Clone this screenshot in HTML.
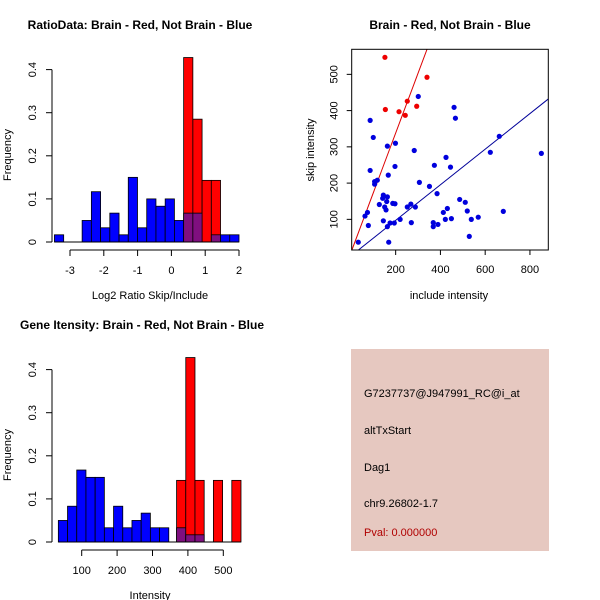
<!DOCTYPE html>
<html><head><meta charset="utf-8"><style>
html,body{margin:0;padding:0;background:#fff;}
svg{display:block;font-family:"Liberation Sans",Arial,sans-serif;}
</style></head><body>
<svg id="s" width="600" height="600" viewBox="0 0 600 600">
<rect width="600" height="600" fill="#fff"/>
<text x="140" y="29" font-size="12" font-weight="bold" text-anchor="middle">RatioData: Brain - Red, Not Brain - Blue</text>
<text x="450" y="29" font-size="12" font-weight="bold" text-anchor="middle">Brain - Red, Not Brain - Blue</text>
<text x="142" y="329" font-size="12" font-weight="bold" text-anchor="middle">Gene Itensity: Brain - Red, Not Brain - Blue</text>
<text x="150" y="299" font-size="11" text-anchor="middle">Log2 Ratio Skip/Include</text>
<text x="150" y="599" font-size="11" text-anchor="middle">Intensity</text>
<text transform="translate(11,155) rotate(-90)" font-size="11" text-anchor="middle">Frequency</text>
<text transform="translate(11,455) rotate(-90)" font-size="11" text-anchor="middle">Frequency</text>
<text x="449" y="299" font-size="11" text-anchor="middle">include intensity</text>
<text transform="translate(314,150) rotate(-90)" font-size="11" text-anchor="middle">skip intensity</text>
<g>
<rect x="351" y="349" width="198" height="202" fill="#e6c8c0"/>
<text x="364" y="397" font-size="11">G7237737@J947991_RC@i_at</text>
<text x="364" y="434" font-size="11">altTxStart</text>
<text x="364" y="471" font-size="11">Dag1</text>
<text x="364" y="507" font-size="11">chr9.26802-1.7</text>
<text x="364" y="536" font-size="11" fill="#b00000">Pval: 0.000000</text>
</g>
<g id="g1"></g><g id="g2"></g><g id="g3"></g>
</svg>
<script>
// Ratio histogram data
const ratioBinStart=-3.46, ratioBinWidth=0.273;
const ratioBlue=[0.0167,0,0,0.05,0.1167,0.033,0.067,0.0167,0.15,0.033,0.1,0.083,0.1,0.05,0.067,0.067,0,0.0167,0.0167,0.0167];
const ratioRed=[0,0,0,0,0,0,0,0,0,0,0,0,0,0,0.428,0.285,0.143,0.143,0,0];
const ratioXTicks=[-3,-2,-1,0,1,2];
const freqTicks=[0,0.1,0.2,0.3,0.4];
// Intensity histogram data
const intBlueStart=34, intBlueWidth=26;
const intBlue=[0.05,0.083,0.167,0.15,0.15,0.033,0.083,0.033,0.05,0.067,0.033,0.033];
const intRedStart=368, intRedWidth=26;
const intRed=[0.143,0.428,0.143,0,0.143,0,0.143];
const intBlueInRed=[0.033,0.0167,0.0167,0,0,0,0];
const intXTicks=[100,200,300,400,500];
// Scatter data
const redX=[152,340,252,294,215,154,243];
const redY=[547,492,426,412,397,403,387];
const blueX=[33,63,74,78,86,86,100,106,106,118,127,145,142,145,151,157,160,163,163,167,163,169,175,187,194,197,197,199,220,252,268,270,283,288,301,306,351,373,385,368,368,389,413,425,422,431,445,449,461,467,486,511,520,529,538,569,623,663,681,851];
const blueY=[37,109,119,83,373,235,326,204,197,208,141,167,158,96,134,126,149,162,302,222,80,37,90,144,90,143,246,310,100,134,142,91,290,134,439,202,191,249,171,91,80,86,119,271,100,130,244,102,409,379,155,147,123,53,100,106,285,329,122,282];
const redFit=[8,1.65];   // intercept, slope
const blueFit=[-1,0.491];
const scXTicks=[200,400,600,800];
const scYTicks=[100,200,300,400,500];

const NS="http://www.w3.org/2000/svg";
function mk(p,t,a){const e=document.createElementNS(NS,t);for(const k in a)e.setAttribute(k,a[k]);p.appendChild(e);return e;}
const BLUE="#0000ff",RED="#ff0000",PURP="#7f0f7f";

function axisY(g,y,x0,ticks,name){
  const l=mk(g,'line',{x1:x0,x2:x0,y1:y(ticks[0]),y2:y(ticks[ticks.length-1]),stroke:'#000'});
  
  
  ticks.forEach(t=>{
    const tk=mk(g,'line',{x1:x0-6,x2:x0,y1:y(t),y2:y(t),stroke:'#000'});
    
    
    const tx=mk(g,'text',{transform:`translate(${x0-16},${y(t)}) rotate(-90)`,'font-size':11,'text-anchor':'middle'});
    tx.textContent=String(t);
    
    
  });
}
function axisX(g,x,y0,ticks,name){
  const l=mk(g,'line',{x1:x(ticks[0]),x2:x(ticks[ticks.length-1]),y1:y0,y2:y0,stroke:'#000'});
  
  
  ticks.forEach(t=>{
    const tk=mk(g,'line',{x1:x(t),x2:x(t),y1:y0,y2:y0+6,stroke:'#000'});
    
    
    const tx=mk(g,'text',{x:x(t),y:y0+24,'font-size':11,'text-anchor':'middle'});
    tx.textContent=String(t);
    
    
  });
}
function bar(g,x0,x1,yb,yt,fill,name){
  const r=mk(g,'rect',{x:x0,y:yt,width:x1-x0,height:yb-yt,fill:fill,stroke:'#000','stroke-width':0.8});
  
  
}

// Panel 1
(function(){
  const g=document.getElementById('g1');
  const x=v=>70+(v+3)*33.8, y=v=>242-v*431;
  for(let i=0;i<ratioRed.length;i++){
    if(ratioRed[i]>0) bar(g,x(ratioBinStart+i*ratioBinWidth),x(ratioBinStart+(i+1)*ratioBinWidth),y(0),y(ratioRed[i]),RED,'ratio-red-bar');
  }
  for(let i=0;i<ratioBlue.length;i++){
    if(ratioBlue[i]>0) bar(g,x(ratioBinStart+i*ratioBinWidth),x(ratioBinStart+(i+1)*ratioBinWidth),y(0),y(ratioBlue[i]),ratioRed[i]>0?PURP:BLUE,'ratio-blue-bar');
  }
  const b=mk(g,'line',{x1:x(ratioBinStart),x2:x(ratioBinStart+ratioBlue.length*ratioBinWidth),y1:y(0),y2:y(0),stroke:'#000'});
  
  
  axisY(g,y,52,freqTicks,'ratio-y-axis');
  axisX(g,x,250,ratioXTicks,'ratio-x-axis');
})();

// Panel 3
(function(){
  const g=document.getElementById('g3');
  const x=v=>46.3+v*0.354, y=v=>542-v*431;
  for(let i=0;i<intRed.length;i++){
    if(intRed[i]>0) bar(g,x(intRedStart+i*intRedWidth),x(intRedStart+(i+1)*intRedWidth),y(0),y(intRed[i]),RED,'intensity-red-bar');
    if(intBlueInRed[i]>0) bar(g,x(intRedStart+i*intRedWidth),x(intRedStart+(i+1)*intRedWidth),y(0),y(intBlueInRed[i]),PURP,'intensity-overlap-bar');
  }
  for(let i=0;i<intBlue.length;i++){
    if(intBlue[i]>0) bar(g,x(intBlueStart+i*intBlueWidth),x(intBlueStart+(i+1)*intBlueWidth),y(0),y(intBlue[i]),BLUE,'intensity-blue-bar');
  }
  const b=mk(g,'line',{x1:x(intBlueStart),x2:x(intRedStart+intRed.length*intRedWidth),y1:y(0),y2:y(0),stroke:'#000'});
  
  
  axisY(g,y,52,freqTicks,'intensity-y-axis');
  axisX(g,x,550,intXTicks,'intensity-x-axis');
})();

// Panel 2
(function(){
  const g=document.getElementById('g2');
  const x=v=>350.9+v*0.2238, y=v=>255.6-v*0.3625;
  const L=351.7,R=548.3,T=49.3,B=250;
  mk(g,'clipPath',{id:'cp'}).appendChild(document.createElementNS(NS,'rect'));
  const cr=g.querySelector('#cp rect');cr.setAttribute('x',L);cr.setAttribute('y',T);cr.setAttribute('width',R-L);cr.setAttribute('height',B-T);
  const xmin=0,xmax=900;
  [[redFit,'#dd0000','red-fit-line'],[blueFit,'#000099','blue-fit-line']].forEach(([f,c,n])=>{
    const l=mk(g,'line',{x1:x(xmin),y1:y(f[0]+f[1]*xmin),x2:x(xmax),y2:y(f[0]+f[1]*xmax),stroke:c,'clip-path':'url(#cp)'});
    
    
  });
  for(let i=0;i<blueX.length;i++){
    const c=mk(g,'circle',{cx:x(blueX[i]),cy:y(blueY[i]),r:2.6,fill:'#0000dd'});
    
    
  }
  for(let i=0;i<redX.length;i++){
    const c=mk(g,'circle',{cx:x(redX[i]),cy:y(redY[i]),r:2.6,fill:'#ee0000'});
    
    
  }
  const bx=mk(g,'rect',{x:L,y:T,width:R-L,height:B-T,fill:'none',stroke:'#000'});
  
  
  scXTicks.forEach(t=>{
    const tk=mk(g,'line',{x1:x(t),x2:x(t),y1:B,y2:B+5,stroke:'#000'});
    
    
    const tx=mk(g,'text',{x:x(t),y:B+23,'font-size':11,'text-anchor':'middle'});
    tx.textContent=String(t);
    
    
  });
  scYTicks.forEach(t=>{
    const tk=mk(g,'line',{x1:L-5,x2:L,y1:y(t),y2:y(t),stroke:'#000'});
    
    
    const tx=mk(g,'text',{transform:`translate(${L-14},${y(t)}) rotate(-90)`,'font-size':11,'text-anchor':'middle'});
    tx.textContent=String(t);
    
    
  });
})();
</script>
</body></html>
